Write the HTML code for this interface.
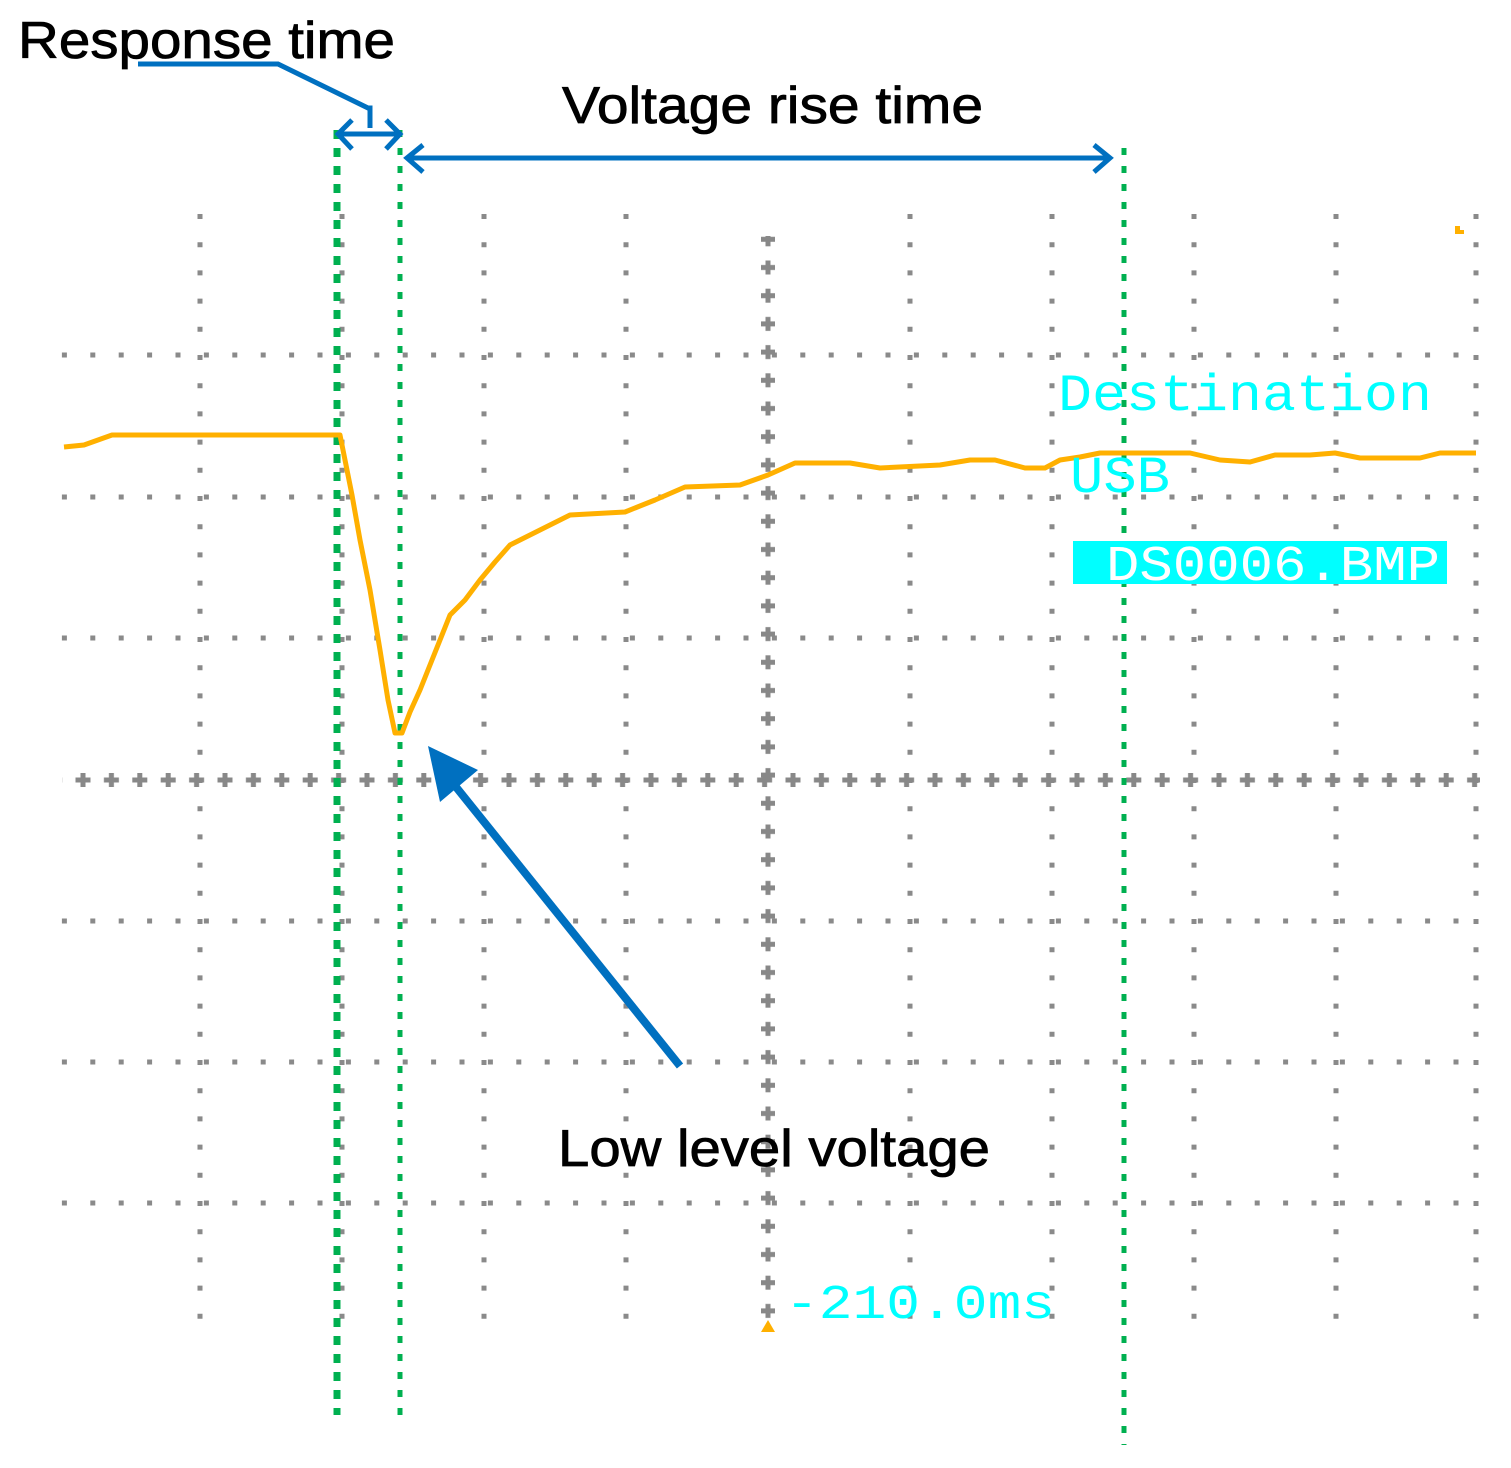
<!DOCTYPE html>
<html><head><meta charset="utf-8"><style>
html,body{margin:0;padding:0;background:#fff}
svg{display:block}
</style></head><body>
<svg width="1511" height="1468" viewBox="0 0 1511 1468" xmlns="http://www.w3.org/2000/svg">
<defs>
<pattern id="plusH" x="-16.4" y="770" width="28.4" height="20" patternUnits="userSpaceOnUse">
<rect x="6.7" y="7.5" width="15" height="5" fill="#888"/><rect x="11.7" y="3" width="5" height="14" fill="#888"/>
</pattern>
<pattern id="plusV" x="758" y="-0.4" width="20" height="28.2" patternUnits="userSpaceOnUse">
<rect x="3" y="11.6" width="14" height="5" fill="#888"/><rect x="7.5" y="7.1" width="5" height="14" fill="#888"/>
</pattern>
</defs>
<g stroke="#8a8a8a" stroke-width="5" stroke-dasharray="5 23.4" fill="none">
<line x1="60" y1="355" x2="1480" y2="355" stroke-dashoffset="-1.9"/>
<line x1="60" y1="497" x2="1480" y2="497" stroke-dashoffset="-1.9"/>
<line x1="60" y1="638" x2="1480" y2="638" stroke-dashoffset="-1.9"/>
<line x1="60" y1="921" x2="1480" y2="921" stroke-dashoffset="-1.9"/>
<line x1="60" y1="1062" x2="1480" y2="1062" stroke-dashoffset="-1.9"/>
<line x1="60" y1="1203" x2="1480" y2="1203" stroke-dashoffset="-1.9"/>
</g>
<g stroke="#8a8a8a" stroke-width="5" stroke-dasharray="5 23.2" fill="none">
<line x1="200" y1="214" x2="200" y2="1320"/>
<line x1="342" y1="214" x2="342" y2="1320"/>
<line x1="484" y1="214" x2="484" y2="1320"/>
<line x1="626" y1="214" x2="626" y2="1320"/>
<line x1="910" y1="214" x2="910" y2="1320"/>
<line x1="1052" y1="214" x2="1052" y2="1320"/>
<line x1="1194" y1="214" x2="1194" y2="1320"/>
<line x1="1336" y1="214" x2="1336" y2="1320"/>
<line x1="1476" y1="214" x2="1476" y2="1320"/>
</g>
<rect x="62" y="770" width="1418" height="20" fill="url(#plusH)"/>
<rect x="758" y="236" width="20" height="1086" fill="url(#plusV)"/>
<g stroke="#00b050" fill="none">
<line x1="337" y1="130" x2="337" y2="1415" stroke-width="7" stroke-dasharray="9 9"/>
<line x1="400" y1="130" x2="400" y2="1420" stroke-width="5" stroke-dasharray="7 11"/>
<line x1="1124" y1="148" x2="1124" y2="1445" stroke-width="5" stroke-dasharray="7 11"/>
</g>
<polyline fill="none" stroke="#ffb000" stroke-width="5" stroke-linejoin="round" points="64,447 84,445 112,435 340,435 345,460 352,495 360,540 370,590 380,650 388,700 395,733 402,733 410,712 420,690 432,660 450,615 465,600 480,580 495,562 510,545 540,530 570,515 625,512 655,500 685,487 740,485 768,475 795,463 850,463 880,468 940,465 970,460 995,460 1025,468 1045,468 1060,460 1080,457 1100,453 1135,453 1190,453 1220,460 1250,462 1275,455 1310,455 1335,453 1360,458 1420,458 1440,453 1476,453"/>
<polygon points="761,1332 775,1332 768,1320" fill="#ffb000"/>
<rect x="1455" y="226" width="5" height="8" fill="#ffb000"/><rect x="1460" y="230" width="4" height="4" fill="#ffb000"/>
<g stroke="#0070c0" stroke-width="5" fill="none">
<polyline points="138,64 278,64 368,108 370,108 370,128"/>
<line x1="338" y1="134" x2="400" y2="134"/>
<polyline points="352,120 338,134 352,149"/>
<polyline points="386,120 400,134 386,149"/>
<line x1="407" y1="158" x2="1110" y2="158"/>
<polyline points="423,145 407,158 423,172"/>
<polyline points="1094,145 1110,158 1094,172"/>
<line x1="680" y1="1066" x2="452" y2="782" stroke-width="8"/>
</g>
<polygon points="428,746 478,770 440,802" fill="#0070c0"/>
<g font-family="'Liberation Sans',sans-serif" font-size="52" fill="#000" stroke="#000" stroke-width="0.8">
<text x="18" y="58" textLength="377" lengthAdjust="spacingAndGlyphs">Response time</text>
<text x="562" y="123" textLength="421" lengthAdjust="spacingAndGlyphs">Voltage rise time</text>
<text x="558" y="1166" textLength="432" lengthAdjust="spacingAndGlyphs">Low level voltage</text>
</g>
<g font-family="'Liberation Mono',monospace" fill="#00ffff">
<text x="1058" y="410" font-size="52" textLength="374" lengthAdjust="spacingAndGlyphs">Destination</text>
<text x="1070" y="492" font-size="52" textLength="100" lengthAdjust="spacingAndGlyphs">USB</text>
<rect x="1073" y="541" width="374" height="43"/>
<text x="1106" y="580" font-size="50" fill="#fff" textLength="334" lengthAdjust="spacingAndGlyphs">DS0006.BMP</text>
<text x="785" y="1318" font-size="48" textLength="270" lengthAdjust="spacingAndGlyphs">-210.0ms</text>
</g>
</svg>
</body></html>
